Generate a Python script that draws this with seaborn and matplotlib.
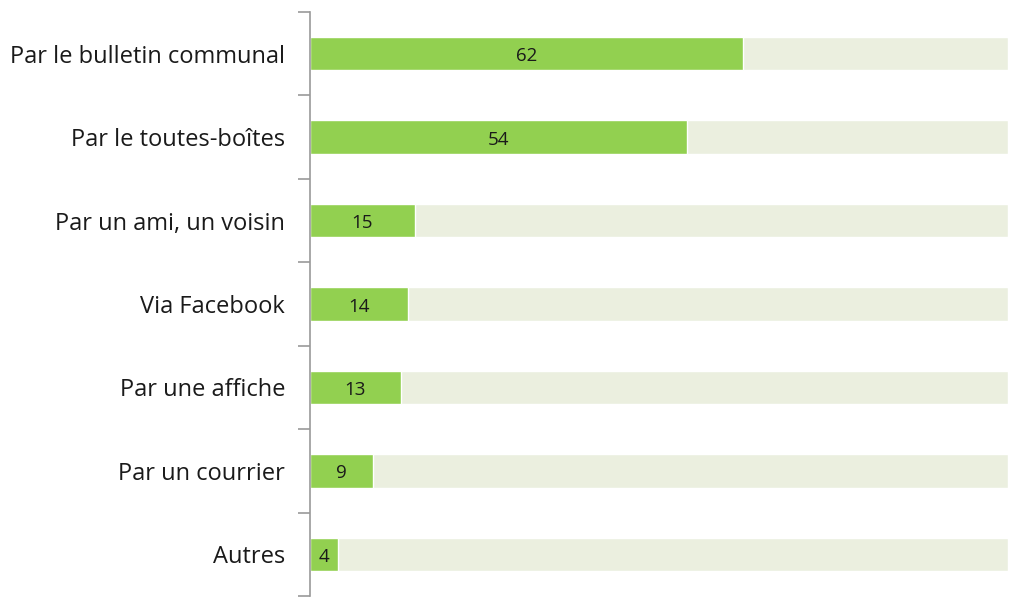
import numpy as np
import pandas as pd
import matplotlib
matplotlib.use('Agg')
import matplotlib.pyplot as plt
import seaborn as sns

categories = ['Par le bulletin communal', 'Par le toutes-boîtes', 'Par un ami, un voisin',
              'Via Facebook', 'Par une affiche', 'Par un courrier', 'Autres']
values = [62, 54, 15, 14, 13, 9, 4]
total = [100] * len(categories)

df = pd.DataFrame({'source': categories, 'value': values, 'total': total})

sns.set_style('white')
plt.rcParams['font.family'] = ['Open Sans', 'DejaVu Sans']

fig = plt.figure(figsize=(10.23, 6.16), dpi=100)
ax = fig.add_axes([310 / 1023, 1 - 596 / 616, 698 / 1023, 584 / 616])

# background bars up to 100
sns.barplot(data=df, y='source', x='total', orient='h', color='#EBEFDF',
            width=0.4, ax=ax, saturation=1)
sns.barplot(data=df, y='source', x='value', orient='h', color='#92D050',
            width=0.4, ax=ax, saturation=1)

# value labels in the middle of the green bars
for i, v in enumerate(values):
    ax.text(v / 2, i + 0.03, str(v), ha='center', va='center', fontsize=13.5, color='#1a1a1a')

ax.set_xlim(0, 100)
ax.set_ylim(len(categories) - 0.5, -0.5)
ax.set_xlabel('')
ax.set_ylabel('')
ax.set_xticks([])

# ticks at category boundaries, labels at centers
ax.set_yticks(np.arange(-0.5, len(categories), 1.0))
ax.set_yticklabels([])
ax.set_yticks(np.arange(len(categories)), minor=True)
ax.set_yticklabels(categories, minor=True, fontsize=17, color='#1a1a1a')
ax.tick_params(axis='y', which='major', length=9, width=1.2, color='#999999', left=True)
ax.tick_params(axis='y', which='minor', length=0, pad=18)

for s in ['top', 'right', 'bottom']:
    ax.spines[s].set_visible(False)
ax.spines['left'].set_color('#999999')
ax.spines['left'].set_linewidth(1.2)

fig.savefig('out.png', dpi=100)
